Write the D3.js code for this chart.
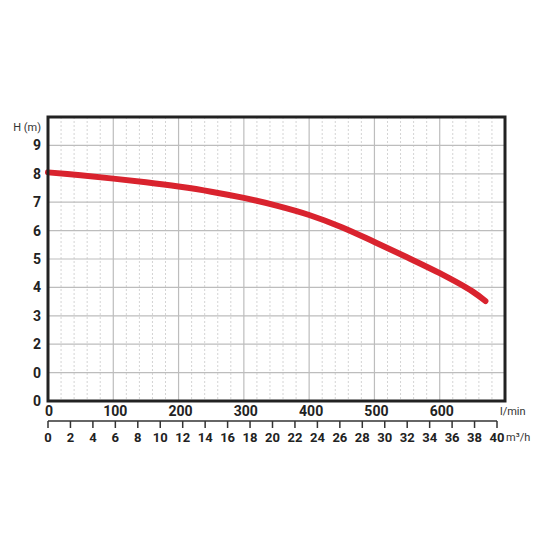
<!DOCTYPE html>
<html><head><meta charset="utf-8">
<script src="https://cdn.jsdelivr.net/npm/d3@7"></script>
<style>body{margin:0;background:#fff}svg{display:block}</style>
</head><body>
<script>
const flowLmin = [0,50,100,150,200,250,300,350,400,450,500,550,600,650,670];
const headM    = [8.05,7.95,7.83,7.70,7.55,7.37,7.15,6.88,6.55,6.12,5.6,5.06,4.5,3.86,3.52];
const yTickValues = [0,1,2,3,4,5,6,7,8,9];
const yTickLabels = ["0","0","2","3","4","5","6","7","8","9"];
const xTickValues = [0,100,200,300,400,500,600];
const m3hTicks = [0,2,4,6,8,10,12,14,16,18,20,22,24,26,28,30,32,34,36,38,40];

(function(){
const W=550,H=550;
const svg=d3.select("body").append("svg").attr("width",W).attr("height",H);
const pL=48,pR=505,pT=117,pB=401;
const x=d3.scaleLinear().domain([0,700]).range([pL,pR]);
const y=d3.scaleLinear().domain([0,10]).range([pB,pT]);
const x2=d3.scaleLinear().domain([0,40]).range([48,497]);
const font="Roboto, 'DejaVu Sans', sans-serif";

const minor=d3.range(20,700,20).filter(v=>v%100!==0);
svg.append("g").selectAll("line").data(minor).join("line")
 .attr("x1",d=>x(d)).attr("x2",d=>x(d)).attr("y1",pT).attr("y2",pB)
 .attr("stroke","#d4d4d4").attr("stroke-width",1).attr("stroke-dasharray","2,2");
svg.append("g").selectAll("line").data(d3.range(100,700,100)).join("line")
 .attr("x1",d=>x(d)).attr("x2",d=>x(d)).attr("y1",pT).attr("y2",pB)
 .attr("stroke","#bdbdbd").attr("stroke-width",1.2);
svg.append("g").selectAll("line").data(d3.range(1,10)).join("line")
 .attr("x1",pL).attr("x2",pR).attr("y1",d=>y(d)).attr("y2",d=>y(d))
 .attr("stroke","#bdbdbd").attr("stroke-width",1.2);

const line=d3.line().x((d,i)=>x(flowLmin[i])).y(d=>y(d)).curve(d3.curveCatmullRom);
svg.append("path").attr("d",line(headM)).attr("fill","none")
 .attr("stroke","#d9232e").attr("stroke-width",6).attr("stroke-linecap","round");

svg.append("rect").attr("x",pL).attr("y",pT).attr("width",pR-pL).attr("height",pB-pT)
 .attr("fill","none").attr("stroke","#222").attr("stroke-width",3);

svg.append("g").selectAll("text").data(yTickValues).join("text")
 .attr("x",41).attr("y",d=>y(d)+5).attr("text-anchor","end")
 .attr("font-family",font).attr("font-weight",700).attr("font-size",14).attr("fill","#222")
 .text((d,i)=>yTickLabels[i]);
svg.append("text").attr("x",41).attr("y",131).attr("text-anchor","end")
 .attr("font-family",font).attr("font-size",11).attr("fill","#333").text("H (m)");

svg.append("g").selectAll("text").data(xTickValues).join("text")
 .attr("x",d=>x(d)+(d===0?1:2)).attr("y",416).attr("text-anchor","middle")
 .attr("font-family",font).attr("font-weight",700).attr("font-size",14).attr("fill","#222")
 .text(d=>d);
svg.append("text").attr("x",500).attr("y",415).attr("font-family",font).attr("font-size",11)
 .attr("fill","#333").text("l/min");

const g2=svg.append("g").attr("transform","translate(0,421)");
g2.append("line").attr("x1",x2(0)).attr("x2",x2(40)).attr("stroke","#333").attr("stroke-width",1.5);
g2.selectAll("line.t").data(m3hTicks).join("line").attr("class","t")
 .attr("x1",d=>x2(d)).attr("x2",d=>x2(d)).attr("y1",0).attr("y2",7).attr("stroke","#333").attr("stroke-width",1.5);
g2.selectAll("text").data(m3hTicks).join("text")
 .attr("x",d=>x2(d)).attr("y",21).attr("text-anchor","middle")
 .attr("font-family",font).attr("font-weight",700).attr("font-size",13).attr("fill","#222").text(d=>d);
svg.append("text").attr("x",506).attr("y",441).attr("font-family",font).attr("font-size",11)
 .attr("fill","#333").text("m³/h");
})();
</script>
</body></html>
